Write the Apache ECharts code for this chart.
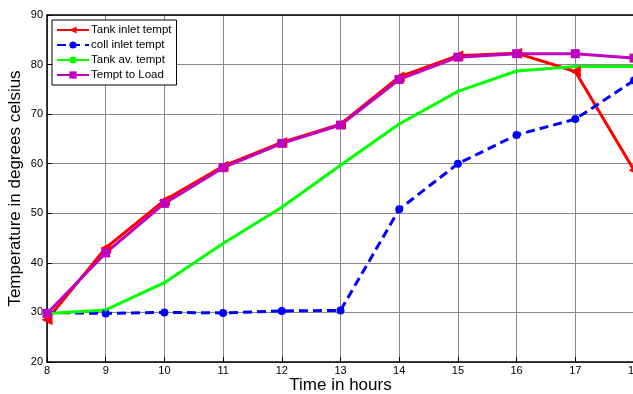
<!DOCTYPE html>
<html>
<head>
<meta charset="utf-8">
<script src="https://cdn.jsdelivr.net/npm/echarts@6/dist/echarts.min.js"></script>
<style>
  html, body { margin: 0; padding: 0; background: #fff; }
  #chart { width: 633px; height: 394px; }
</style>
</head>
<body>
<div id="chart"></div>
<script>
const hours = [8, 9, 10, 11, 12, 13, 14, 15, 16, 17, 18];
const tankInlet = [28.5, 43, 52.6, 59.5, 64.3, 68, 77.5, 81.8, 82.3, 78.6, 58.7];
const collInlet = [30, 29.8, 30, 29.9, 30.3, 30.4, 50.8, 60, 65.8, 69, 76.8];
const tankAv = [29.8, 30.5, 36, 43.9, 51.2, 59.7, 68, 74.6, 78.7, 79.6, 79.6];
const temptLoad = [29.8, 42, 52, 59.2, 64.1, 67.8, 77, 81.5, 82.2, 82.2, 81.3];

const font = "Liberation Sans, Arial, sans-serif";
const chart = echarts.init(document.getElementById("chart"));

const pairs = (ys) => hours.map((h, i) => [h, ys[i]]);

chart.setOption({
  animation: false,
  backgroundColor: "#fff",
  textStyle: { fontFamily: font },
  grid: { left: 47, right: -1, top: 15, bottom: 32, outerBoundsMode: "none", containLabel: false },
  legend: {
    left: 52,
    top: 20,
    orient: "vertical",
    itemWidth: 32,
    itemHeight: 9,
    itemGap: 3,
    padding: [4, 5, 4, 4],
    borderColor: "#000",
    borderWidth: 1,
    backgroundColor: "#fff",
    textStyle: { fontSize: 11.5, color: "#000", fontFamily: font, padding: [0, 0, 0, -3] },
    data: ["Tank inlet tempt", "coll inlet tempt", "Tank av. tempt", "Tempt to Load"]
  },
  xAxis: {
    type: "value",
    min: 8,
    max: 18,
    interval: 1,
    name: "Time in hours",
    nameLocation: "middle",
    nameGap: 15,
    nameMoveOverlap: false,
    nameTextStyle: { fontSize: 17, color: "#000", fontFamily: font },
    axisLine: { onZero: false, lineStyle: { color: "#000", width: 1.5 } },
    axisTick: { inside: true, length: 5, lineStyle: { color: "#000" } },
    axisLabel: { fontSize: 11, color: "#000", margin: 3, fontFamily: font },
    splitLine: { show: true, lineStyle: { color: "#888", width: 1 } }
  },
  yAxis: {
    type: "value",
    min: 20,
    max: 90,
    interval: 10,
    name: "Temperature in degrees celsius",
    nameLocation: "middle",
    nameGap: 23,
    nameMoveOverlap: false,
    nameTextStyle: { fontSize: 17, color: "#000", fontFamily: font },
    axisLine: { show: true, onZero: false, lineStyle: { color: "#000", width: 1.5 } },
    axisTick: { show: true, inside: true, length: 5, lineStyle: { color: "#000" } },
    axisLabel: { fontSize: 11, color: "#000", margin: 4, fontFamily: font },
    splitLine: { show: true, lineStyle: { color: "#888", width: 1 } }
  },
  series: [
    {
      name: "Tank inlet tempt",
      type: "line",
      data: pairs(tankInlet),
      color: "#ff0000",
      lineStyle: { width: 3 },
      symbol: "triangle",
      symbolRotate: 90,
      symbolSize: 11,
      showAllSymbol: true
    },
    {
      name: "coll inlet tempt",
      type: "line",
      data: pairs(collInlet),
      color: "#0000ff",
      lineStyle: { width: 3, type: [9, 5] },
      symbol: "circle",
      symbolSize: 8,
      showAllSymbol: true
    },
    {
      name: "Tank av. tempt",
      type: "line",
      data: pairs(tankAv),
      color: "#00ff00",
      lineStyle: { width: 3 },
      symbol: "circle",
      symbolSize: 3,
      showAllSymbol: true
    },
    {
      name: "Tempt to Load",
      type: "line",
      data: pairs(temptLoad),
      color: "#c000c0",
      lineStyle: { width: 3 },
      symbol: "rect",
      symbolSize: 9,
      showAllSymbol: true
    }
  ],
  graphic: [
    {
      type: "line",
      shape: { x1: 47, y1: 15, x2: 633, y2: 15 },
      style: { stroke: "#000", lineWidth: 1.5 },
      z: 10
    }
  ]
});
</script>
</body>
</html>
